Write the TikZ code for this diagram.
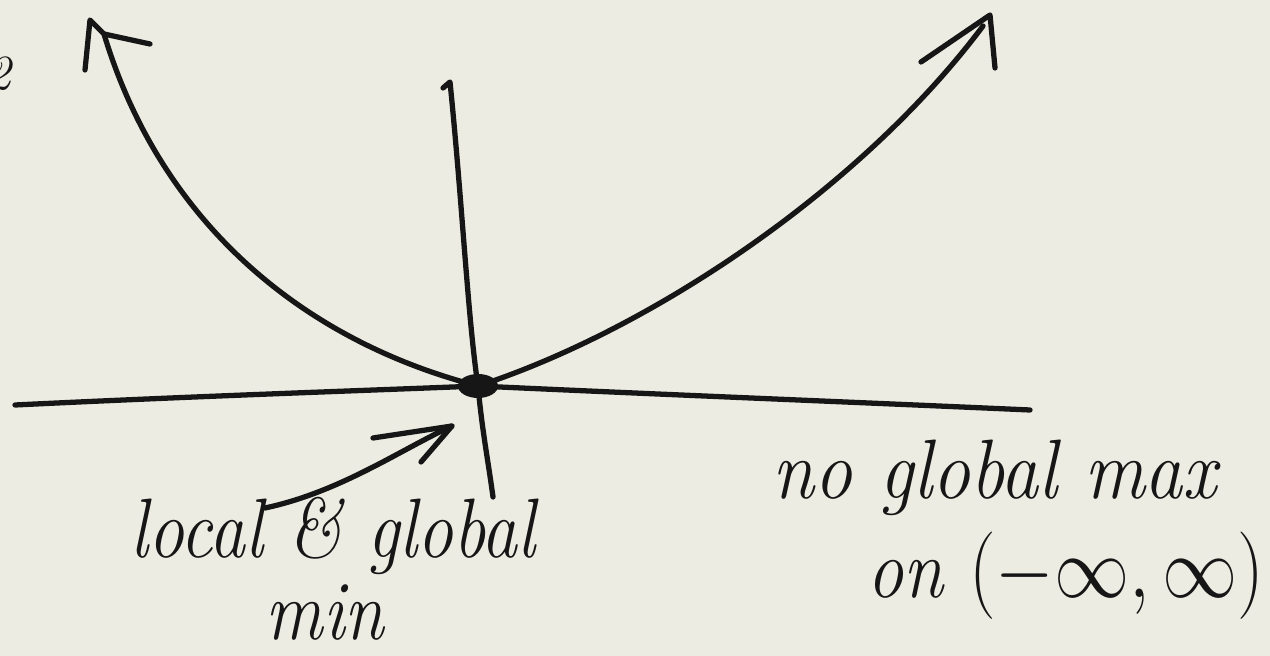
\documentclass[tikz,border=0pt]{standalone}
\usetikzlibrary{arrows.meta}
\definecolor{paper}{RGB}{236,236,226}
\definecolor{ink}{RGB}{22,22,22}
\begin{document}
\begin{tikzpicture}[x=0.1mm,y=-0.1mm,
  pen/.style={draw=ink,line width=1.5pt,line cap=round,line join=round},
  hand/.style={text=ink,font=\itshape\fontsize{24}{24}\selectfont,inner sep=0pt}]
\fill[paper] (0,0) rectangle (1270,656);
\useasboundingbox (0,0) rectangle (1270,656);
% key points
\coordinate (O) at (478,386);
\coordinate (LT) at (104,34);
\coordinate (LTip) at (90,20);
\coordinate (LB1) at (85,70);
\coordinate (LB2) at (150,44);
\coordinate (RT) at (983,26);
\coordinate (RTip) at (990,15);
\coordinate (RB1) at (921,62);
\coordinate (RB2) at (995,68);
\coordinate (VT) at (450,82);
\coordinate (VH) at (443,88);
\coordinate (VB) at (493,497);
\coordinate (HL) at (15,405);
\coordinate (HR) at (1030,410);
\coordinate (AS) at (265,508);
\coordinate (ATip) at (452,426);
\coordinate (AB1) at (373,438);
\coordinate (AB2) at (421,462);
% axes
\draw[pen] (HL) .. controls (200,396) and (380,390) .. (O);
\draw[pen] (O) .. controls (650,394) and (850,402) .. (HR);
\draw[pen] (VH) -- (VT) .. controls (462,200) and (468,320) .. (O)
  .. controls (482,430) and (488,460) .. (VB);
% parabola
\draw[pen] (O) .. controls (300,340) and (160,220) .. (LT);
\draw[pen] (LB1) -- (LTip) -- (LT) -- (LB2);
\draw[pen] (O) .. controls (650,330) and (860,190) .. (RT);
\draw[pen] (RB1) -- (RTip) -- (RB2);
% vertex dot
\fill[ink] (O) ellipse [x radius=20, y radius=12];
% pointer arrow
\draw[pen] (AS) .. controls (340,492) and (400,450) .. (ATip);
\draw[pen] (AB1) -- (ATip) -- (AB2);
% texts
\node[hand,anchor=east,font=\itshape\fontsize{14}{14}\selectfont] (two) at (12,74) {2};
\node[hand,xscale=0.85] (lg) at (333,536) {local \& global};
\node[hand,xscale=0.85] (mn) at (325,613) {min};
\node[hand,xscale=0.9] (ng) at (995,478) {no global max};
\node[hand,xscale=0.86] (on) at (1066,576) {on $(-\infty,\infty)$};
\end{tikzpicture}
\end{document}
